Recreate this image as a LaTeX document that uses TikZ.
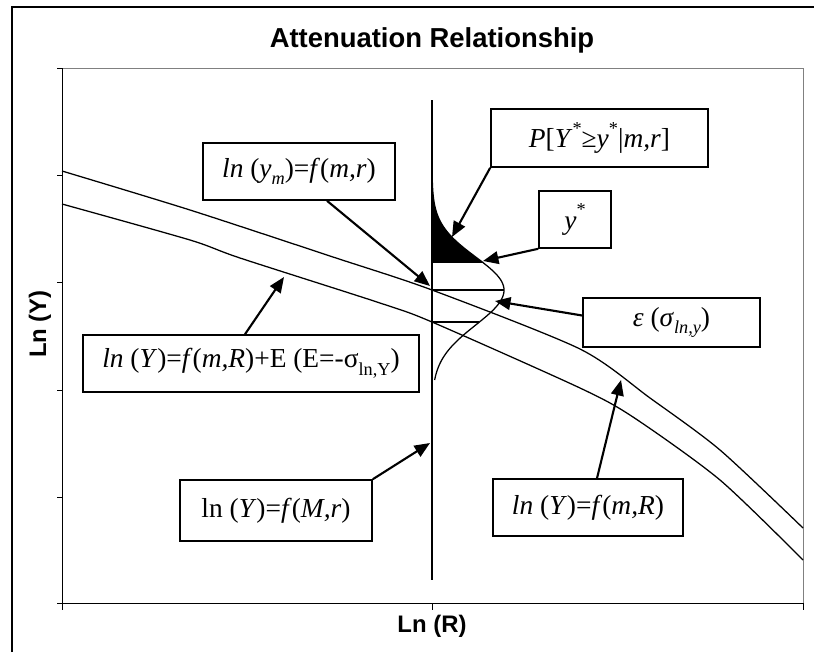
\documentclass[tikz,border=0pt]{standalone}
\usepackage{fontspec}
\setmainfont{Liberation Serif}
\newfontfamily\arialfont{Liberation Sans}
\usetikzlibrary{arrows.meta, positioning, calc}

\newcommand{\lowpart}[1]{\raisebox{-0.28em}{\fontsize{13}{13}\selectfont #1}}
\newcommand{\highpart}[1]{\raisebox{0.5em}{\fontsize{13}{13}\selectfont #1}}

\begin{document}
\begin{tikzpicture}[
    x=0.025cm, y=-0.025cm,
    box/.style={
        draw, line width=1.1pt, fill=white, inner sep=0pt,
        font=\fontsize{19.5}{22}\selectfont
    },
    title/.style={font=\arialfont\bfseries\fontsize{19.5}{22}\selectfont},
    axislabel/.style={font=\arialfont\bfseries\fontsize{17}{20}\selectfont},
    curve/.style={line width=0.9pt},
    pointer/.style={-{Triangle[length=11pt,width=9pt]}, line width=1.5pt},
]
\useasboundingbox (0,0) rectangle (814,652);

% Chart frame and plot area
\draw[line width=1pt] (12,652) -- (12,7) -- (814,7);
\draw[gray] (62,68) -- (803,68) -- (803,603);
\draw (62,68) -- (62,603) -- (803,603);
\foreach \t in {68,175,282,390,497,603}
    \draw (57,\t) -- (62,\t);
\foreach \t in {62,432,803}
    \draw (\t,603) -- (\t,610);

% Labels
\node[title] (head) at (432,40) {Attenuation Relationship};
\node[axislabel] (xlab) at (432,626) {Ln (R)};
\node[axislabel, rotate=90] (ylab) at (40,324) {Ln (Y)};

% Attenuation curves
\draw[curve] plot[smooth, tension=0.45] coordinates {(62,171) (190,210) (333,257)
    (432,290) (580,349) (650,398) (720,450) (803,528)};
\draw[curve] plot[smooth, tension=0.45] coordinates {(62,204) (190,240) (240,258)
    (380,303) (432,322) (580,388) (633,417) (720,480) (803,560)};

% Distance line and distribution
\draw[line width=1pt] (432,100) -- (432,580);
\fill (432,165) -- plot[domain=165:262, samples=50]
    ({432+72*exp(-0.5*((\x-290)/33)*((\x-290)/33))}, \x) -- (432,262) -- cycle;
\draw[curve] plot[domain=165:290, samples=60]
    ({432+72*exp(-0.5*((\x-290)/33)*((\x-290)/33))}, \x)
    -- plot[domain=290:380, samples=50]
    ({432+72*exp(-0.5*((\x-290)/35)*((\x-290)/35))}, \x);
\draw[curve] (432,262) -- ({432+72*exp(-0.5*(28/33)*(28/33))},262);
\draw[curve] (432,290) -- (504,290);
\draw[curve] (432,322) -- ({432+72*exp(-0.5*(32/35)*(32/35))},322);

% Boxes
\node[box, minimum width=5.425cm, minimum height=1.45cm] (prob) at (599.5,138)
    {\textit{P}[\textit{Y}\highpart{*}≥\textit{y}\highpart{*}|\textit{m,r}]};
\node[box, minimum width=1.8cm, minimum height=1.425cm] (ystar) at (575,219.5)
    {\textit{y}\highpart{*}};
\node[box, minimum width=4.8cm, minimum height=1.425cm] (median) at (299,171.5)
    {\textit{ln} (\textit{y}\lowpart{\textit{m}})=\textit{f}(\textit{m,r})};
\node[box, minimum width=4.425cm, minimum height=1.225cm] (sigma) at (671.5,322.5)
    {\textit{ε} (\textit{σ}\lowpart{\textit{ln,y}})};
\node[box, minimum width=8.4cm, minimum height=1.425cm] (shifted) at (251,363.5)
    {\textit{ln} (\textit{Y})=\textit{f}(\textit{m,R})+E (E=-σ\lowpart{ln,Y})};
\node[box, minimum width=4.8cm, minimum height=1.525cm] (magbox) at (276,510.5)
    {ln (\textit{Y})=\textit{f}(\textit{M,r})};
\node[box, minimum width=4.75cm, minimum height=1.425cm] (distbox) at (588,507.5)
    {\textit{ln} (\textit{Y})=\textit{f}(\textit{m,R})};

% Arrow targets
\coordinate (tailarea) at (452,237);
\coordinate (ylevel) at (483,261);
\coordinate (mediancut) at (430,286);
\coordinate (peak) at (495,301);
\coordinate (lowcurve) at (284,277);
\coordinate (distline) at (430,443);
\coordinate (upcurve) at (621,380);

% Arrows
\draw[pointer] (prob.south west) -- (tailarea);
\draw[pointer] (ystar.south west) -- (ylevel);
\draw[pointer] ($(median.south)+(28,0)$) -- (mediancut);
\draw[pointer] ($(sigma.west)+(0,-7)$) -- (peak);
\draw[pointer] ($(shifted.north)+(-6,0)$) -- (lowcurve);
\draw[pointer] (magbox.north east) -- (distline);
\draw[pointer] ($(distbox.north)+(9,0)$) -- (upcurve);

\end{tikzpicture}
\end{document}
